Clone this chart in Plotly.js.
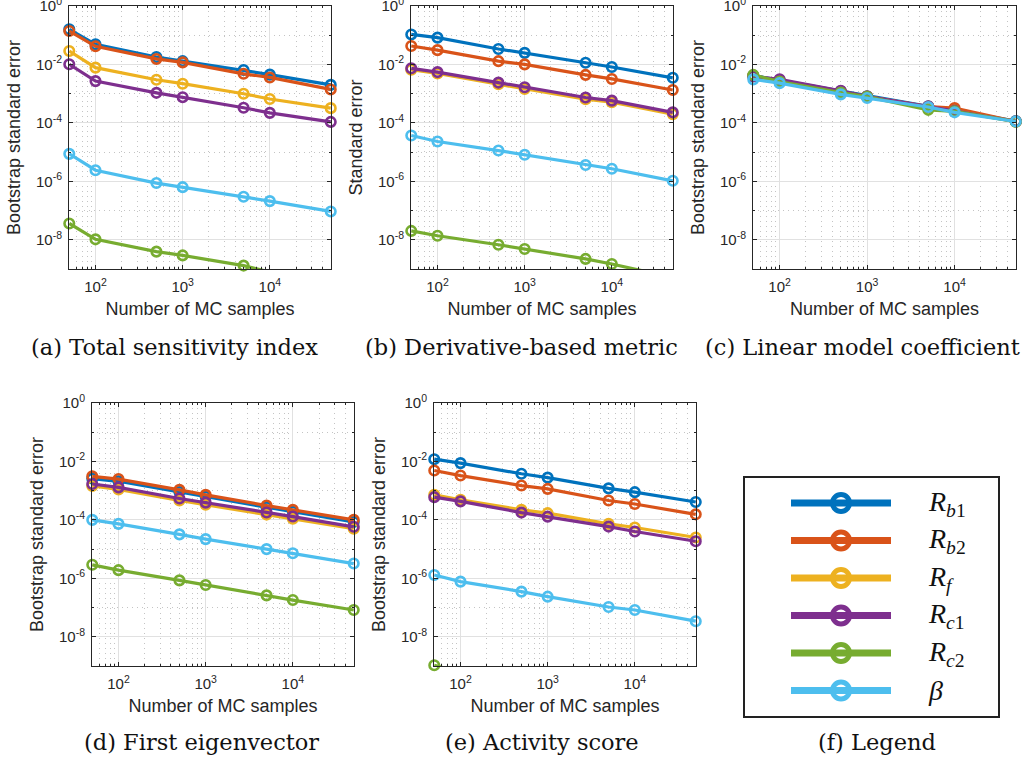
<!DOCTYPE html>
<html>
<head>
<meta charset="utf-8">
<script src="https://cdn.plot.ly/plotly-3.0.1.min.js"></script>
<style>html,body{margin:0;padding:0;background:#fff}#chart{width:1026px;height:764px}</style>
</head>
<body>
<div id="chart"></div>
<script>
// ---------- data ----------
const samples = [50, 100, 500, 1000, 5000, 10000, 50000];
const seriesNames = ['R_b1', 'R_b2', 'R_f', 'R_c1', 'R_c2', 'beta'];
const seriesLabels = ['<i>R</i><sub><i>b</i>1</sub>', '<i>R</i><sub><i>b</i>2</sub>', '<i>R</i><sub><i>f</i></sub>',
                      '<i>R</i><sub><i>c</i>1</sub>', '<i>R</i><sub><i>c</i>2</sub>', '<i>β</i>'];
const seriesColors = ['#0072BD', '#D95319', '#EDB120', '#7E2F8E', '#77AC30', '#4DBEEE'];

// (a) Total sensitivity index
const tsiRb1  = [0.16, 0.049, 0.018, 0.013, 0.0065, 0.0045, 0.002];
const tsiRb2  = [0.14, 0.042, 0.0155, 0.0118, 0.0048, 0.0036, 0.0014];
const tsiRf   = [0.029, 0.0078, 0.003, 0.0022, 0.001, 0.00066, 0.00032];
const tsiRc1  = [0.0102, 0.0027, 0.00107, 0.00076, 0.00033, 0.00022, 0.000108];
const tsiRc2  = [3.6e-8, 1.03e-8, 3.9e-9, 2.9e-9, 1.3e-9, 7.8e-10, 3.5e-10];
const tsiBeta = [8.7e-6, 2.4e-6, 8.7e-7, 6.3e-7, 2.95e-7, 2.1e-7, 9.3e-8];

// (b) Derivative-based metric
const dbmRb1  = [0.107, 0.083, 0.034, 0.025, 0.0115, 0.0082, 0.0035];
const dbmRb2  = [0.043, 0.031, 0.013, 0.0101, 0.0044, 0.0032, 0.00134];
const dbmRf   = [0.0066, 0.0049, 0.0021, 0.00146, 0.00065, 0.00051, 0.0002];
const dbmRc1  = [0.0074, 0.0055, 0.0024, 0.00166, 0.00074, 0.00058, 0.00023];
const dbmRc2  = [2.0e-8, 1.37e-8, 6.7e-9, 4.8e-9, 2.2e-9, 1.47e-9, 5.1e-10];
const dbmBeta = [3.7e-5, 2.3e-5, 1.13e-5, 8.1e-6, 3.6e-6, 2.7e-6, 1.04e-6];

// (c) Linear model coefficient
const lmcRb1  = [0.0042, 0.0029, 0.0012, 0.00082, 0.00037, 0.00027, 0.000115];
const lmcRb2  = [0.0040, 0.0028, 0.00118, 0.0008, 0.00036, 0.00032, 0.000112];
const lmcRf   = [0.0041, 0.0027, 0.00115, 0.00078, 0.00035, 0.00026, 0.00011];
const lmcRc1  = [0.0039, 0.0031, 0.00125, 0.0008, 0.00036, 0.00026, 0.000112];
const lmcRc2  = [0.0044, 0.0026, 0.0011, 0.00079, 0.00028, 0.00025, 0.00011];
const lmcBeta = [0.0031, 0.0023, 0.00095, 0.00071, 0.00035, 0.00023, 0.000112];

// (d) First eigenvector
const eigRb1  = [0.0026, 0.0021, 0.0009, 0.00062, 0.00027, 0.00019, 0.000085];
const eigRb2  = [0.0031, 0.0025, 0.00107, 0.00072, 0.00031, 0.00022, 0.0001];
const eigRf   = [0.00145, 0.0011, 0.00046, 0.00033, 0.000152, 0.00011, 0.00005];
const eigRc1  = [0.0017, 0.0013, 0.00054, 0.00039, 0.00018, 0.00013, 0.000058];
const eigRc2  = [2.9e-6, 1.9e-6, 8.5e-7, 5.9e-7, 2.6e-7, 1.8e-7, 8.2e-8];
const eigBeta = [1.0e-4, 7.3e-5, 3.2e-5, 2.2e-5, 1.0e-5, 7.2e-6, 3.2e-6];

// (e) Activity score
const actRb1  = [0.012, 0.0088, 0.0038, 0.0028, 0.0012, 0.00089, 0.00041];
const actRb2  = [0.0049, 0.0033, 0.0015, 0.00115, 0.00046, 0.00035, 0.000155];
const actRf   = [0.00072, 0.00049, 0.00022, 0.00017, 7.3e-5, 5.5e-5, 2.5e-5];
const actRc1  = [0.0006, 0.00043, 0.000178, 0.000129, 5.9e-5, 4.0e-5, 1.86e-5];
const actRc2  = [1.05e-9, 6e-10, 2.5e-10, 1.8e-10, 8e-11, 6e-11, 2.5e-11];
const actBeta = [1.3e-6, 7.7e-7, 3.5e-7, 2.35e-7, 1.04e-7, 8.2e-8, 3.4e-8];

const xTickVals = [100, 1000, 10000];
const xTickText = ['10<sup>2</sup>', '10<sup>3</sup>', '10<sup>4</sup>'];
const yTickVals = [1, 1e-2, 1e-4, 1e-6, 1e-8];
const yTickText = ['10<sup>0</sup>', '10<sup>-2</sup>', '10<sup>-4</sup>', '10<sup>-6</sup>', '10<sup>-8</sup>'];

const captions = ['(a) Total sensitivity index', '(b) Derivative-based metric', '(c) Linear model coefficient',
                  '(d) First eigenvector', '(e) Activity score', '(f) Legend'];
const yTitles = ['Bootstrap standard error', 'Standard error', 'Bootstrap standard error',
                 'Bootstrap standard error', 'Bootstrap standard error'];

const panelData = [
  [tsiRb1, tsiRb2, tsiRf, tsiRc1, tsiRc2, tsiBeta],
  [dbmRb1, dbmRb2, dbmRf, dbmRc1, dbmRc2, dbmBeta],
  [lmcRb1, lmcRb2, lmcRf, lmcRc1, lmcRc2, lmcBeta],
  [eigRb1, eigRb2, eigRf, eigRc1, eigRc2, eigBeta],
  [actRb1, actRb2, actRf, actRc1, actRc2, actBeta]
];

// ---------- layout geometry (pixels) ----------
const W = 1026, H = 764;
const boxes = [
  {x0: 69, x1: 331, y0: 6, y1: 269},
  {x0: 411, x1: 673, y0: 6, y1: 269},
  {x0: 753, x1: 1016, y0: 6, y1: 269},
  {x0: 92, x1: 354, y0: 403, y1: 666},
  {x0: 434, x1: 696, y0: 403, y1: 666}
];
const legBox = {x0: 745, x1: 998, y0: 478, y1: 716};
const capPos = [[174, 347], [521, 347], [862, 347], [201, 742], [542, 742], [877, 742]];

const px = v => v / W, py = v => 1 - v / H;
const EPS = 0.003;

const xMinor = [];
for (let d = 10; d <= 10000; d *= 10) for (let k = 2; k <= 9; k++) { const v = k * d; if (v >= 50 && v <= 50000) xMinor.push(v); }
const yMinor = [1e-1, 1e-3, 1e-5, 1e-7];

const sansFont = 'Liberation Sans, Arial, sans-serif';
const axColor = '#262626';

const traces = [];
const layout = {
  width: W, height: H, margin: {l: 0, r: 0, t: 0, b: 0},
  paper_bgcolor: '#fff', plot_bgcolor: '#fff', showlegend: false,
  font: {family: sansFont, color: axColor},
  annotations: []
};

boxes.forEach((b, i) => {
  const n = i + 1;
  const xk = n === 1 ? 'xaxis' : 'xaxis' + n;
  const yk = n === 1 ? 'yaxis' : 'yaxis' + n;
  layout[xk] = {
    type: 'log', domain: [px(b.x0), px(b.x1)], anchor: 'y' + (n === 1 ? '' : n),
    range: [Math.log10(50) - EPS, Math.log10(50000) + EPS], autorange: false,
    tickmode: 'array', tickvals: xTickVals, ticktext: xTickText,
    ticks: 'inside', ticklen: 4, tickcolor: axColor, tickwidth: 1,
    showline: true, linecolor: axColor, linewidth: 1, mirror: 'allticks',
    showgrid: true, gridcolor: '#e1e1e1', gridwidth: 1, zeroline: false,
    minor: {tickmode: 'array', tickvals: xMinor, ticks: 'inside', ticklen: 2, tickcolor: axColor,
            showgrid: true, gridcolor: '#c4c4c4', griddash: '1px,4px', gridwidth: 1},
    tickfont: {family: sansFont, size: 15, color: axColor},
    ticklabelstandoff: 4, ticklabeloverflow: 'allow',
    title: {text: 'Number of MC samples', font: {family: sansFont, size: 18, color: axColor}, standoff: 8},
    fixedrange: true, automargin: false
  };
  layout[yk] = {
    type: 'log', domain: [py(b.y1), py(b.y0)], anchor: 'x' + (n === 1 ? '' : n),
    range: [-9 - EPS, 0 + EPS], autorange: false,
    tickmode: 'array', tickvals: yTickVals, ticktext: yTickText,
    ticks: 'inside', ticklen: 4, tickcolor: axColor, tickwidth: 1,
    showline: true, linecolor: axColor, linewidth: 1, mirror: 'allticks',
    showgrid: true, gridcolor: '#e1e1e1', gridwidth: 1, zeroline: false,
    minor: {tickmode: 'array', tickvals: yMinor, ticks: 'inside', ticklen: 2, tickcolor: axColor,
            showgrid: true, gridcolor: '#c4c4c4', griddash: '1px,4px', gridwidth: 1},
    tickfont: {family: sansFont, size: 15, color: axColor},
    ticklabelstandoff: 3, ticklabeloverflow: 'allow',
    title: {text: yTitles[i], font: {family: sansFont, size: 18, color: axColor}, standoff: 10},
    fixedrange: true, automargin: false
  };
  panelData[i].forEach((vals, s) => {
    traces.push({
      type: 'scatter', mode: 'lines+markers', name: seriesNames[s],
      x: samples, y: vals,
      xaxis: 'x' + (n === 1 ? '' : n), yaxis: 'y' + (n === 1 ? '' : n),
      line: {color: seriesColors[s], width: 3.2},
      marker: {symbol: 'circle-open', size: 9.5, color: seriesColors[s], line: {width: 2.6, color: seriesColors[s]}},
      cliponaxis: false, hoverinfo: 'x+y+name'
    });
  });
});

// ---------- legend panel (f) ----------
layout.xaxis6 = {domain: [px(legBox.x0), px(legBox.x1)], anchor: 'y6', range: [legBox.x0, legBox.x1],
  showline: true, linecolor: '#222', linewidth: 1.5, mirror: true, showgrid: false, zeroline: false,
  showticklabels: false, ticks: '', fixedrange: true};
layout.yaxis6 = {domain: [py(legBox.y1), py(legBox.y0)], anchor: 'x6', range: [legBox.y1, legBox.y0],
  showline: true, linecolor: '#222', linewidth: 1.5, mirror: true, showgrid: false, zeroline: false,
  showticklabels: false, ticks: '', fixedrange: true};
const legRow0 = 503, legRowStep = 37.5, legLineX0 = 791, legLineX1 = 891, legLabelX = 926;
seriesNames.forEach((nm, s) => {
  const yy = legRow0 + s * legRowStep;
  traces.push({type: 'scatter', mode: 'lines', x: [legLineX0, legLineX1], y: [yy, yy], xaxis: 'x6', yaxis: 'y6',
    line: {color: seriesColors[s], width: 7}, hoverinfo: 'skip'});
  traces.push({type: 'scatter', mode: 'markers', x: [(legLineX0 + legLineX1) / 2], y: [yy], xaxis: 'x6', yaxis: 'y6',
    marker: {symbol: 'circle-open', size: 17, color: seriesColors[s], line: {width: 5, color: seriesColors[s]}},
    hoverinfo: 'skip', cliponaxis: false});
  layout.annotations.push({xref: 'paper', yref: 'paper', x: px(legLabelX), y: py(yy), xanchor: 'left', yanchor: 'middle',
    text: seriesLabels[s], showarrow: false, font: {family: 'Liberation Serif, serif', size: 28, color: '#111'}});
});

// ---------- captions ----------
captions.forEach((c, i) => {
  layout.annotations.push({xref: 'paper', yref: 'paper', x: px(capPos[i][0]), y: py(capPos[i][1]),
    xanchor: 'center', yanchor: 'middle', text: c, showarrow: false,
    font: {family: 'DejaVu Serif, serif', size: 22.5, color: '#111'}});
});

Plotly.newPlot('chart', traces, layout, {displayModeBar: false});
</script>
</body>
</html>
